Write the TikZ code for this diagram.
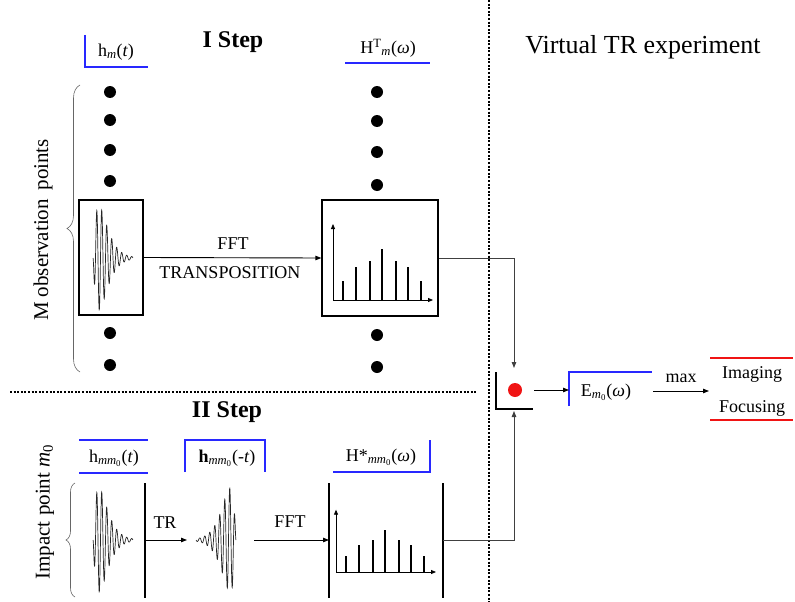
\documentclass[tikz,border=0pt]{standalone}
\usepackage{fontspec}
\setmainfont{Liberation Serif}
\usetikzlibrary{arrows.meta,decorations.pathreplacing}
\definecolor{blueC}{RGB}{40,40,255}
\definecolor{redC}{RGB}{240,20,20}
\newcommand\fs[1]{\fontsize{#1}{#1}\selectfont}
\tikzset{
  dotc/.style={circle,fill=black,inner sep=0pt,minimum size=12pt},
  frame/.style={draw,line width=1.3pt,inner sep=0pt},
  vline/.style={line width=1.3pt},
  arr/.style={-{Triangle[length=6pt,width=4.5pt]},line width=0.9pt},
  garr/.style={-{Triangle[length=6pt,width=4.5pt]},line width=0.9pt,black!75},
  lbl/.style={font=\fs{18},inner sep=0pt},
  bl/.style={draw=blueC,line width=1.3pt},
  rl/.style={draw=redC,line width=1.3pt},
  sep/.style={line width=1.1pt,dash pattern=on 2pt off 1.6pt},
  wave/.style={line width=0.7pt,black!85},
  brc/.style={draw=black!60,line width=0.6pt,decorate},
}
\newcommand\spec[3]{% origin x, origin y, yscale
  \begin{scope}[shift={(#1,#2)},yscale=#3]
    \draw[-{Triangle[length=5pt,width=4pt]},line width=0.8pt] (0,0) -- (0,-76);
    \draw[-{Triangle[length=5pt,width=4pt]},line width=0.8pt] (0,0) -- (100,0);
    \foreach \bx/\bh in {10/19,23/33,37/39,49/51,63/39,75/33,88/19}
      \draw[line width=1.5pt] (\bx,0) -- (\bx,-\bh);
  \end{scope}}
\begin{document}
\begin{tikzpicture}[x=1pt,y=-1pt]
\useasboundingbox (0,0) rectangle (795,602);

% separators
\draw[sep] (489,0) -- (489,602);
\draw[sep] (10,392) -- (476,392);

% titles
\node[font=\fs{24}\bfseries] (t1) at (233,42) {I Step};
\node[font=\fs{24}\bfseries] (t2) at (227,412) {II Step};
\node[font=\fs{26}] (t3) at (643,47) {Virtual TR experiment};

% ---------- I Step ----------
\node[lbl] (lh1) at (116,52) {h\textsubscript{\textit{m}}(\textit{t})};
\draw[bl] (85,35) -- (85,67) -- (148,67);
\node[lbl] (lH1) at (388,48) {H\textsuperscript{T}\textsubscript{\textit{m}}(\textit{ω})};
\draw[bl] (345,63) -- (430,63);

\foreach \yy [count=\i] in {92,120,150,181,333,365}
  \node[dotc] (dl\i) at (110,\yy) {};
\foreach \yy [count=\i] in {92,121,152,185,335,367}
  \node[dotc] (dr\i) at (377,\yy) {};

\node[frame,minimum width=64pt,minimum height=115pt] (boxA) at (111,257.5) {};
\node[frame,minimum width=116pt,minimum height=116pt] (boxB) at (380,258) {};
\draw[wave] plot[domain=0:1,samples=400,smooth]
  ({93+40*\x},{258+52*(\x/0.15)*exp(1-\x/0.15)*sin(2880*\x)});
\spec{333}{300}{1}
\draw[arr] (boxA.east) -- (boxB.west);
\node[font=\fs{18}] (fft1) at (233,244) {FFT};
\node[font=\fs{18}] (trp) at (230,273) {TRANSPOSITION};

\draw[brc,decoration={brace,amplitude=13pt}] (80,372) -- (80,85);
\node[font=\fs{21},rotate=90] (mobs) at (43,230) {M observation\, points};

% ---------- II Step ----------
\node[lbl] (lh2) at (114,458) {h\textsubscript{\textit{mm}\textsubscript{0}}(\textit{t})};
\draw[bl] (79,440) -- (148,440);
\draw[bl] (79,473) -- (148,473);
\node[lbl] (lh3) at (227,458) {\textbf{h}\textsubscript{\textit{mm}\textsubscript{0}}(-\textit{t})};
\draw[bl] (185,472) -- (185,440) -- (265,440) -- (265,472);
\node[lbl] (lH2) at (381,457) {H*\textsubscript{\textit{mm}\textsubscript{0}}(\textit{ω})};
\draw[bl] (333,472) -- (430,472) -- (430,440);

\draw[brc,decoration={brace,amplitude=9pt}] (75,597) -- (75,483);
\node[font=\fs{21},rotate=90] (imp) at (45,512) {Impact point \textit{m}\textsubscript{0}};

\draw[wave] plot[domain=0:1,samples=400,smooth]
  ({93+40*\x},{540+52*(\x/0.15)*exp(1-\x/0.15)*sin(2880*\x)});
\draw[wave] plot[domain=0:1,samples=400,smooth]
  ({236-40*\x},{540-52*(\x/0.15)*exp(1-\x/0.15)*sin(2880*\x)});

\draw[vline] (145,483) -- (145,598);
\draw[vline] (329,483) -- (329,598);
\draw[vline] (443,483) -- (443,598);
\coordinate (w1) at (145,540);
\coordinate (w2) at (187,540);
\coordinate (w3) at (254,540);
\coordinate (w4) at (329,540);
\coordinate (w5) at (443,540);
\draw[arr] (w1) -- (w2);
\node[font=\fs{18}] (tr) at (165,523) {TR};
\draw[arr] (w3) -- (w4);
\node[font=\fs{18}] (fft2) at (290,522) {FFT};
\spec{336}{572}{0.82}

% ---------- Virtual TR ----------
\node[circle,fill=redC,inner sep=0pt,minimum size=14pt] (rdot) at (515,390) {};
\draw[line width=1.3pt] (496,372) -- (496,409) -- (533,409);
\coordinate (rtop) at (514,368);
\coordinate (rbot) at (514,411);
\draw[garr] (boxB.east) -| (rtop);
\draw[garr] (w5) -| (rbot);

\node[lbl] (E) at (606,392) {E\textsubscript{\textit{m}\textsubscript{0}}(\textit{ω})};
\draw[bl] (569,406) -- (569,372) -- (652,372);
\coordinate (e1) at (534,390);
\coordinate (e2) at (569,390);
\draw[arr] (e1) -- (e2);
\coordinate (m1) at (653,391);
\coordinate (m2) at (709,391);
\draw[arr] (m1) -- (m2);
\node[lbl] (max) at (681,378) {max};
\draw[rl] (710,358) -- (793,358);
\draw[rl] (710,420) -- (793,420);
\node[lbl] (img) at (752,374) {Imaging};
\node[lbl] (foc) at (752,408) {Focusing};
\end{tikzpicture}
\end{document}
